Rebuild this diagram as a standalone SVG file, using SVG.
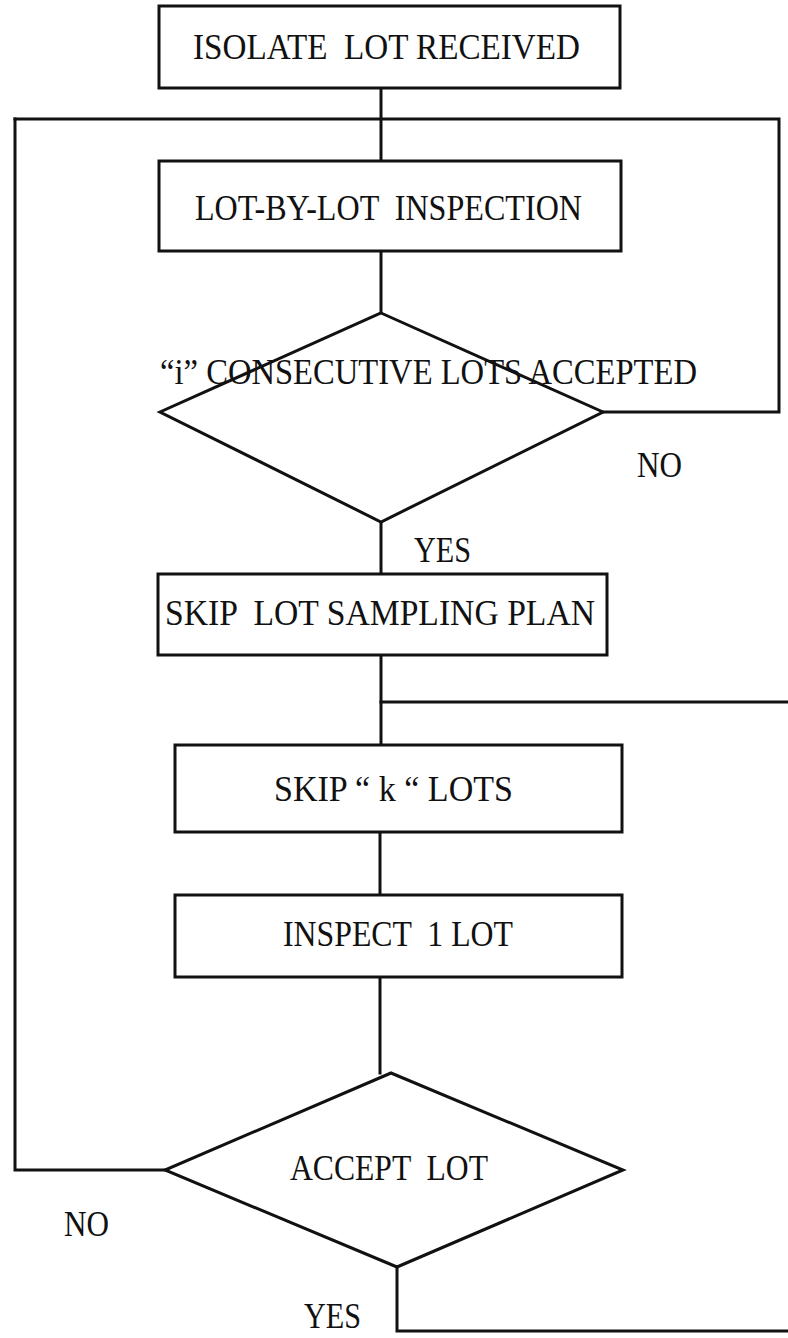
<svg xmlns="http://www.w3.org/2000/svg" width="788" height="1338" viewBox="0 0 788 1338">
<style>
.n{fill:#fff;stroke:#111;stroke-width:3}
.c{fill:none;stroke:#111;stroke-width:3;stroke-linecap:square}
text{font-family:"Liberation Serif","Times New Roman",serif;font-size:35px;fill:#111;white-space:pre}
</style>
<rect width="788" height="1338" fill="#fff"/>
<g id="connectors">
<path class="c" d="M381,88 V161"/>
<path class="c" d="M15,119 H779 V412 H603"/>
<path class="c" d="M381,251 V313"/>
<path class="c" d="M381,522 V574"/>
<path class="c" d="M381,655 V745"/>
<path class="c" d="M381,702 H788"/>
<path class="c" d="M380,832 V895"/>
<path class="c" d="M380,977 V1073"/>
<path class="c" d="M165,1170 H15 V119"/>
<path class="c" d="M397,1267 V1331 H788"/>
</g>
<g id="n1"><rect class="n" x="159" y="6" width="461" height="82"/><text x="193" y="59" textLength="387" lengthAdjust="spacingAndGlyphs">ISOLATE  LOT RECEIVED</text></g>
<g id="n2"><rect class="n" x="159" y="161" width="462" height="90"/><text x="195" y="220" textLength="387" lengthAdjust="spacingAndGlyphs">LOT-BY-LOT  INSPECTION</text></g>
<g id="n3"><polygon class="n" points="381,313 603,412 381,522 160,412"/><text x="160" y="384" textLength="537" lengthAdjust="spacingAndGlyphs">“i” CONSECUTIVE LOTS ACCEPTED</text></g>
<g id="n4"><rect class="n" x="158" y="574" width="449" height="81"/><text x="165" y="625" textLength="430" lengthAdjust="spacingAndGlyphs">SKIP  LOT SAMPLING PLAN</text></g>
<g id="n5"><rect class="n" x="175" y="745" width="447" height="87"/><text x="274" y="801" textLength="239" lengthAdjust="spacingAndGlyphs">SKIP “ k “ LOTS</text></g>
<g id="n6"><rect class="n" x="175" y="895" width="447" height="82"/><text x="283" y="946" textLength="230" lengthAdjust="spacingAndGlyphs">INSPECT  1 LOT</text></g>
<g id="n7"><polygon class="n" points="391,1073 623,1170 397,1267 165,1170"/><text x="290" y="1180" textLength="198" lengthAdjust="spacingAndGlyphs">ACCEPT  LOT</text></g>
<g id="labels">
<text x="637" y="477" textLength="45" lengthAdjust="spacingAndGlyphs">NO</text>
<text x="414" y="562" textLength="57" lengthAdjust="spacingAndGlyphs">YES</text>
<text x="64" y="1236" textLength="45" lengthAdjust="spacingAndGlyphs">NO</text>
<text x="304" y="1328" font-size="33" textLength="57" lengthAdjust="spacingAndGlyphs">YES</text>
</g>
</svg>
